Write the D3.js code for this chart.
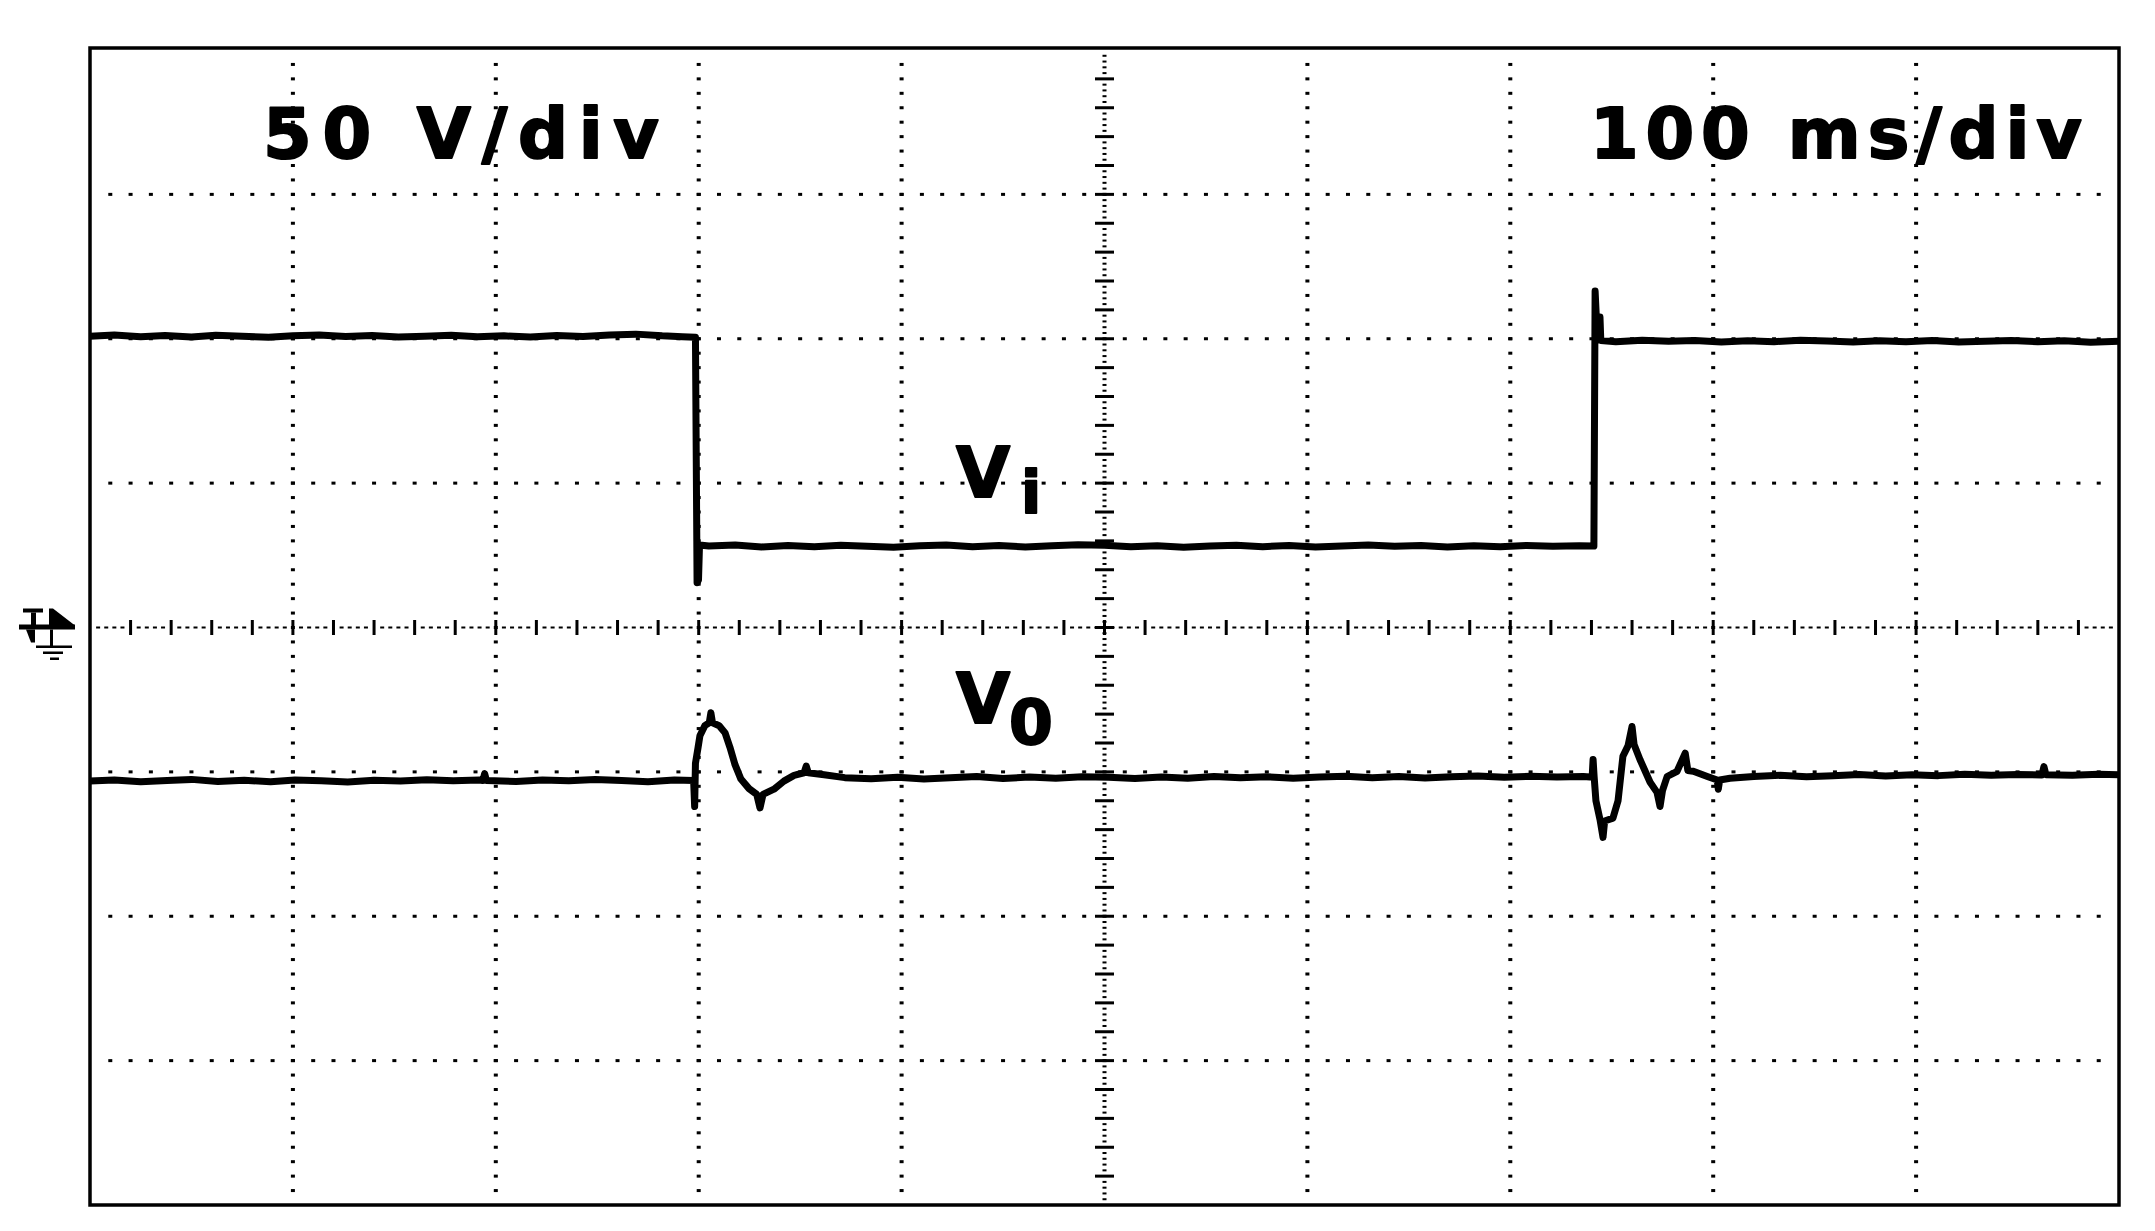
<!DOCTYPE html>
<html>
<head>
<meta charset="utf-8">
<script src="https://cdn.jsdelivr.net/npm/d3@7"></script>
<style>
    html, body { margin: 0; padding: 0; background: #fff; }
    svg { display: block; }
</style>
</head>
<body>
<svg id="scope" width="2155" height="1231"></svg>
<script>
// scope settings
const msPerDiv = 100;
const voltsPerDiv = 50;
const divsX = 10;
const divsY = 8;

const scaleLabels = ['50 V/div', '100 ms/div'];
const traceNames = ['V', 'V'];
const traceSubs = ['i', '0'];

// input voltage trace, [ms, V]
const viPoints = [
    [0, 100.9], [12, 101.3], [25, 100.7], [37, 101.1], [50, 100.6], [62, 101.2], [75, 100.9],
    [88, 100.5], [100, 101.0], [113, 101.3], [126, 100.8], [139, 101.1], [152, 100.6], [165, 100.9],
    [178, 101.2], [191, 100.7], [204, 101.0], [217, 100.6], [230, 101.1], [243, 100.8], [256, 101.3],
    [269, 101.6], [282, 101.0], [292, 100.7], [298.4, 100.5],
    [299.2, 15.5], [299.9, 16.5], [300.4, 28.6],
    [305, 28.2], [318, 28.6], [331, 27.9], [344, 28.4], [357, 28.0], [370, 28.5], [383, 28.1],
    [396, 27.8], [409, 28.3], [422, 28.6], [435, 28.0], [448, 28.4], [461, 27.9], [474, 28.3],
    [487, 28.7], [500, 28.5], [513, 28.0], [526, 28.3], [539, 27.8], [552, 28.2], [565, 28.5],
    [578, 28.0], [591, 28.4], [604, 27.9], [617, 28.2], [630, 28.6], [643, 28.1], [656, 28.4],
    [669, 27.9], [682, 28.3], [695, 28.0], [708, 28.4], [721, 28.1], [734, 28.3], [741.2, 28.2],
    [741.8, 116.5], [742.4, 107.5], [744.2, 107.5], [744.6, 99.4],
    [752, 99.0], [765, 99.5], [778, 99.1], [791, 99.4], [804, 98.9], [817, 99.3], [830, 99.0],
    [843, 99.5], [856, 99.2], [869, 98.9], [882, 99.3], [895, 99.0], [908, 99.4], [921, 98.9],
    [934, 99.1], [947, 99.4], [960, 99.0], [973, 99.3], [986, 98.8], [1000, 99.1]
];

// output voltage trace, [ms, V]
const voPoints = [
    [0, -53.2], [12, -52.8], [25, -53.4], [38, -53.0], [50, -52.6], [63, -53.3], [76, -52.9],
    [89, -53.4], [101, -52.8], [114, -53.1], [127, -53.5], [140, -52.9], [153, -53.2], [166, -52.7],
    [179, -53.1], [192, -52.8], [193.6, -53.0], [194.5, -50.6], [195.4, -53.0], [210, -53.3],
    [223, -52.8], [236, -53.1], [249, -52.6], [262, -53.0], [275, -53.4], [288, -52.8], [297.5, -53.0],
    [298.0, -62.0], [298.4, -47.0], [299.7, -41.5], [300.6, -37.5], [303.0, -34.0], [305.2, -33.0],
    [306.0, -29.5], [306.8, -33.0], [310.1, -34.0], [313, -36.5], [315.4, -41.5], [317.9, -47.5],
    [320.8, -52.5], [324.8, -55.8], [328.6, -57.8], [330.2, -62.5], [331.7, -57.8], [337.1, -56.0],
    [342, -53.2], [347, -51.2], [351.9, -50.3], [353.0, -48.0], [354.0, -50.3], [361.8, -51.0],
    [372, -52.0], [385, -52.4], [398, -51.9], [411, -52.5], [424, -52.0], [437, -51.6], [450, -52.3],
    [463, -51.8], [476, -52.2], [489, -51.7], [502, -51.9], [515, -52.3], [528, -51.8], [541, -52.2],
    [554, -51.6], [567, -52.0], [580, -51.7], [593, -52.2], [606, -51.8], [619, -51.5], [632, -52.0],
    [645, -51.6], [658, -52.1], [671, -51.7], [684, -51.4], [697, -51.9], [710, -51.5], [723, -51.8],
    [736, -51.6], [739.3, -51.8],
    [740.4, -51.0], [740.8, -45.7], [741.3, -51.5], [742.2, -60.0], [744.2, -66.5], [745.7, -72.7],
    [746.5, -67.0], [750.6, -66.0], [753.1, -60.0], [755.5, -44.6], [758, -41.0], [760, -34.3],
    [761, -40.5], [763.9, -45.7], [768.9, -53.6], [772.3, -57.1], [773.8, -62.0], [775, -56.5],
    [777.3, -51.6], [782.2, -49.8], [786.2, -43.5], [787.5, -49.5], [790.2, -49.8], [797.1, -51.6],
    [802, -52.8], [802.5, -56.0], [803.2, -52.8], [808.3, -52.2],
    [820, -51.6], [833, -51.2], [846, -51.7], [859, -51.3], [872, -50.9], [885, -51.4], [898, -51.0],
    [911, -51.3], [924, -50.8], [937, -51.2], [950, -50.9], [962, -51.1], [963, -48.2], [964, -51.0],
    [977, -51.2], [990, -50.8], [1000, -51.0]
];

const svg = d3.select('#scope');
const FONT = '"DejaVu Sans", Verdana, sans-serif';
const INK = '#000';

const tMax = msPerDiv * divsX;
const vMax = voltsPerDiv * divsY / 2;

const xScale = d3.scaleLinear()
    .domain([0, tMax])
    .range([90, 2119]);
const yScale = d3.scaleLinear()
    .domain([-vMax, vMax])
    .range([1205, 50]);

const tCenter = tMax / 2;

// grid dots
const majorT = xScale.ticks(divsX).filter((t) => t > 0 && t < tMax && t !== tCenter);
const majorV = yScale.ticks(divsY).filter((v) => v > -vMax && v < vMax && v !== 0);
const minorT = xScale.ticks(divsX * 10).filter((t) => t > 0 && t < tMax);
const minorV = yScale.ticks(divsY * 10).filter((v) => v > -vMax && v < vMax);

const grid = svg.append('g').attr('fill', INK);

majorV.forEach((v) => {
    grid.selectAll(null)
        .data(minorT)
        .join('rect')
        .attr('x', (t) => xScale(t) - 2)
        .attr('y', yScale(v) - 1.5)
        .attr('width', 4)
        .attr('height', 3);
});

majorT.forEach((t) => {
    grid.selectAll(null)
        .data(minorV)
        .join('rect')
        .attr('x', xScale(t) - 2)
        .attr('y', (v) => yScale(v) - 1.5)
        .attr('width', 4)
        .attr('height', 3);
});

// center axes with fine ticks
const axisStepT = msPerDiv / 25;
const axisStepV = voltsPerDiv / 25;
const axisT = d3.range(axisStepT, tMax, axisStepT);
const axisV = d3.range(-vMax + axisStepV, vMax, axisStepV);
const isTickT = (t) => Math.abs(Math.round(t / (axisStepT * 5)) * axisStepT * 5 - t) < 1e-6;
const isTickV = (v) => Math.abs(Math.round(v / (axisStepV * 5)) * axisStepV * 5 - v) < 1e-6;

grid.selectAll(null)
    .data(axisT)
    .join('rect')
    .attr('x', (t) => isTickT(t) ? xScale(t) - 1.5 : xScale(t) - 2)
    .attr('y', (t) => isTickT(t) ? yScale(0) - 7.5 : yScale(0) - 1)
    .attr('width', (t) => isTickT(t) ? 3 : 4)
    .attr('height', (t) => isTickT(t) ? 15 : 2);

grid.selectAll(null)
    .data(axisV)
    .join('rect')
    .attr('x', (v) => isTickV(v) ? xScale(tCenter) - 9.5 : xScale(tCenter) - 2)
    .attr('y', (v) => isTickV(v) ? yScale(v) - 1.5 : yScale(v) - 1)
    .attr('width', (v) => isTickV(v) ? 19 : 4)
    .attr('height', (v) => isTickV(v) ? 3 : 2);

// traces
const line = d3.line()
    .x((d) => xScale(d[0]))
    .y((d) => yScale(d[1]));

[viPoints, voPoints].forEach((pts) => {
    svg.append('path')
        .datum(pts)
        .attr('d', line)
        .attr('fill', 'none')
        .attr('stroke', INK)
        .attr('stroke-width', 7)
        .attr('stroke-linejoin', 'round');
});

// frame
svg.append('rect')
    .attr('x', xScale(0))
    .attr('y', 48)
    .attr('width', xScale(tMax) - xScale(0))
    .attr('height', 1157)
    .attr('fill', 'none')
    .attr('stroke', INK)
    .attr('stroke-width', 3.5);

// ground / trigger marker
const marker = svg.append('g')
    .attr('transform', `translate(0, ${yScale(0)})`)
    .attr('fill', INK);
marker.append('rect').attr('x', 23).attr('y', -19).attr('width', 20).attr('height', 4);
marker.append('rect').attr('x', 31).attr('y', -15).attr('width', 5).attr('height', 13);
marker.append('rect').attr('x', 19).attr('y', -3).attr('width', 56).attr('height', 5);
marker.append('path').attr('d', 'M26,2 L35,2 L35,15 L31,15 Z');
marker.append('path').attr('d', 'M49,-19 L53,-19 L75,-2 L49,-2 Z');
marker.append('rect').attr('x', 50).attr('y', 2).attr('width', 3).attr('height', 17);
marker.append('rect').attr('x', 36).attr('y', 18).attr('width', 36).attr('height', 2.5);
marker.append('rect').attr('x', 43).attr('y', 24).attr('width', 20).attr('height', 2.5);
marker.append('rect').attr('x', 50).attr('y', 30).attr('width', 9).attr('height', 2.5);

// labels
const labelText = (txt, x, y, size, fitWidth) => {
    const el = svg.append('text')
        .attr('x', x)
        .attr('y', y)
        .attr('font-family', FONT)
        .attr('font-weight', 'bold')
        .attr('font-size', size)
        .attr('fill', INK)
        .attr('stroke', INK)
        .attr('stroke-width', 2)
        .attr('stroke-linejoin', 'round')
        .text(txt);
    if (fitWidth) {
        el.attr('textLength', fitWidth).attr('lengthAdjust', 'spacing');
    }
    return el;
};

labelText(scaleLabels[0], 263, 158, 70, 396);
labelText(scaleLabels[1], 1590, 158, 70, 492);

labelText(traceNames[0], 956, 497, 70);
labelText(traceSubs[0], 1021, 513, 59);
labelText(traceNames[1], 956, 723, 70);
labelText(traceSubs[1], 1009, 744, 63);
</script>
</body>
</html>
